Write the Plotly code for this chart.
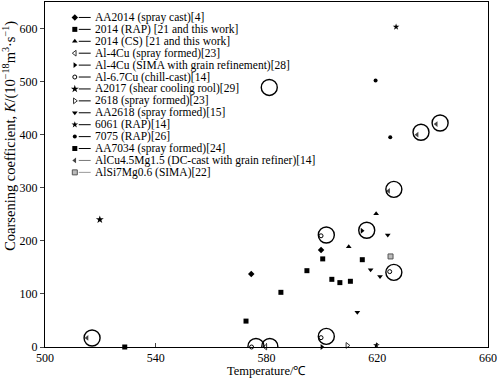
import plotly.graph_objects as go

# ---------------- data ----------------
aa2014_x = [574.5, 599.7]
aa2014_y = [137.6, 182.6]
rap2014_x = [594.6, 600.3, 603.6, 606.5, 610.3, 614.6]
rap2014_y = [143.8, 166.0, 127.5, 121.3, 123.8, 164.5]
cs2014_x = [609.7, 619.6]
cs2014_y = [189.0, 251.0]
al4cu_sf_x = [579.6]
al4cu_sf_y = [0.0]
al4cu_sima_x = [614.5, 600.0]
al4cu_sima_y = [219.0, 0.0]
al67cu_x = [599.7, 624.5, 599.7, 574.6]
al67cu_y = [209.5, 142.0, 17.6, 0.0]
a2017_x = [519.8]
a2017_y = [240.0]
sf2618_x = [609.2]
sf2618_y = [3.0]
aa2618_x = [623.8, 617.6, 621.0, 612.8]
aa2618_y = [211.0, 145.7, 132.6, 65.6]
rap6061_x = [626.8, 619.7]
rap6061_y = [603.0, 3.0]
rap7075_x = [619.4, 624.7]
rap7075_y = [502.0, 395.0]
aa7034_x = [528.8, 572.6, 585.2]
aa7034_y = [0.0, 48.8, 103.0]
alcu45_x = [634.4, 641.3, 624.1, 515.2]
alcu45_y = [400.0, 420.0, 294.0, 17.0]
alsi7_x = [624.8]
alsi7_y = [170.6]
circle_x = [581.0, 635.8, 642.7, 626.0, 601.6, 616.2, 626.0, 601.6, 517.0, 576.2, 581.2]
circle_y = [489.0, 404.6, 422.0, 297.0, 211.0, 220.0, 140.6, 20.0, 17.0, 1.0, 1.0]

x_ticks = [500, 540, 580, 620, 660]
y_ticks = [0, 100, 200, 300, 400, 500, 600]

labels = [
    "AA2014 (spray cast)[4]",
    "2014 (RAP) [21 and this work]",
    "2014 (CS) [21 and this work]",
    "Al-4Cu (spray formed)[23]",
    "Al-4Cu (SIMA with grain refinement)[28]",
    "Al-6.7Cu (chill-cast)[14]",
    "A2017 (shear cooling rool)[29]",
    "2618 (spray formed)[23]",
    "AA2618 (spray formed)[15]",
    "6061 (RAP)[14]",
    "7075 (RAP)[26]",
    "AA7034 (spray formed)[24]",
    "AlCu4.5Mg1.5 (DC-cast with grain refiner)[14]",
    "AlSi7Mg0.6 (SIMA)[22]",
]

# ---------------- styles ----------------
series = [
    (aa2014_x, aa2014_y, dict(symbol="diamond", size=5, color="black")),
    (rap2014_x, rap2014_y, dict(symbol="square", size=5, color="black")),
    (cs2014_x, cs2014_y, dict(symbol="triangle-up", size=5, color="black")),
    (al4cu_sf_x, al4cu_sf_y, dict(symbol="triangle-left-open", size=5, color="#333")),
    (al4cu_sima_x, al4cu_sima_y, dict(symbol="triangle-right", size=5, color="black")),
    (al67cu_x, al67cu_y, dict(symbol="circle-open", size=4, color="black")),
    (a2017_x, a2017_y, dict(symbol="star", size=6, color="black")),
    (sf2618_x, sf2618_y, dict(symbol="triangle-right-open", size=5, color="#333")),
    (aa2618_x, aa2618_y, dict(symbol="triangle-down", size=5, color="black")),
    (rap6061_x, rap6061_y, dict(symbol="star", size=5, color="black")),
    (rap7075_x, rap7075_y, dict(symbol="circle", size=4, color="black")),
    (aa7034_x, aa7034_y, dict(symbol="square", size=5, color="black")),
    (alcu45_x, alcu45_y, dict(symbol="triangle-left", size=5, color="#444")),
    (alsi7_x, alsi7_y, dict(symbol="square", size=5, color="#bbb", line=dict(color="#555", width=1))),
]
line_cols = ["black"] * 12 + ["#777", "#999"]

W, H = 498, 379
L, R, T, B = 45, 7, 1, 32
PW, PH = W - L - R, H - T - B
FONT = "Liberation Serif, Times New Roman, serif"

fig = go.Figure()

for (xs, ys, mk), name in zip(series, labels):
    fig.add_trace(go.Scatter(x=xs, y=ys, mode="markers", name=name, marker=mk,
                             showlegend=False, cliponaxis=False))

fig.add_trace(go.Scatter(x=circle_x, y=circle_y, mode="markers", showlegend=False,
                         marker=dict(symbol="circle-open", size=16, color="black",
                                     line=dict(width=1.4, color="black")),
                         cliponaxis=True, hoverinfo="skip"))

# ---------------- custom compact legend (overlay axes in pixel units) ----------------
leg_y0, leg_dy = 16.5, 11.95
mk_x, ln_x0, ln_x1, tx_x = 75, 79, 91, 93
annotations = []
for i, ((xs, ys, mk), name) in enumerate(zip(series, labels)):
    yy = leg_y0 + leg_dy * i
    fig.add_trace(go.Scatter(x=[ln_x0, ln_x1], y=[yy, yy], mode="lines", xaxis="x2", yaxis="y2",
                             line=dict(color=line_cols[i], width=1), showlegend=False,
                             hoverinfo="skip"))
    fig.add_trace(go.Scatter(x=[mk_x], y=[yy], mode="markers", xaxis="x2", yaxis="y2",
                             marker=mk, showlegend=False, hoverinfo="skip"))
    annotations.append(dict(x=tx_x, y=yy, xref="x2", yref="y2", text=name, showarrow=False,
                            xanchor="left", yanchor="middle",
                            font=dict(family=FONT, size=11.5, color="black")))

# axis titles
annotations.append(dict(x=(9 - L) / PW, y=1 - (135 - T) / PH, xref="paper", yref="paper",
                        text="Coarsening coefficient, <i>K</i>/(10<sup>−18</sup>m<sup>3</sup>·s<sup>−1</sup>)",
                        textangle=-90, showarrow=False, xanchor="center", yanchor="middle",
                        font=dict(family=FONT, size=14.5, color="black")))
annotations.append(dict(x=(268 - L) / PW, y=1 - (371 - T) / PH, xref="paper", yref="paper",
                        text="Temperature/℃", showarrow=False, xanchor="center", yanchor="middle",
                        font=dict(family=FONT, size=12.5, color="black")))

fig.update_layout(
    width=W, height=H,
    margin=dict(l=L, r=R, t=T, b=B),
    paper_bgcolor="white", plot_bgcolor="white",
    showlegend=False,
    font=dict(family=FONT, size=12, color="black"),
    xaxis=dict(range=[500, 660], tickvals=x_ticks, ticks="inside", ticklen=4,
               showline=True, linecolor="black", linewidth=1, mirror=True,
               ticklabeloverflow="allow",
               showgrid=False, zeroline=False, tickfont=dict(family=FONT, size=12)),
    yaxis=dict(range=[0, 650], tickvals=y_ticks, ticks="outside", ticklen=4,
               showline=True, linecolor="black", linewidth=1, mirror=True,
               ticklabeloverflow="allow",
               showgrid=False, zeroline=False, tickfont=dict(family=FONT, size=12)),
    xaxis2=dict(range=[L, L + PW], overlaying="x", anchor="y2", visible=False, fixedrange=True),
    yaxis2=dict(range=[T + PH, T], overlaying="y", anchor="x2", visible=False, fixedrange=True),
    annotations=annotations,
)

fig.write_html("out.html", config={"displayModeBar": False},
               post_script="document.body.style.margin='0';document.body.style.overflow='hidden';")
